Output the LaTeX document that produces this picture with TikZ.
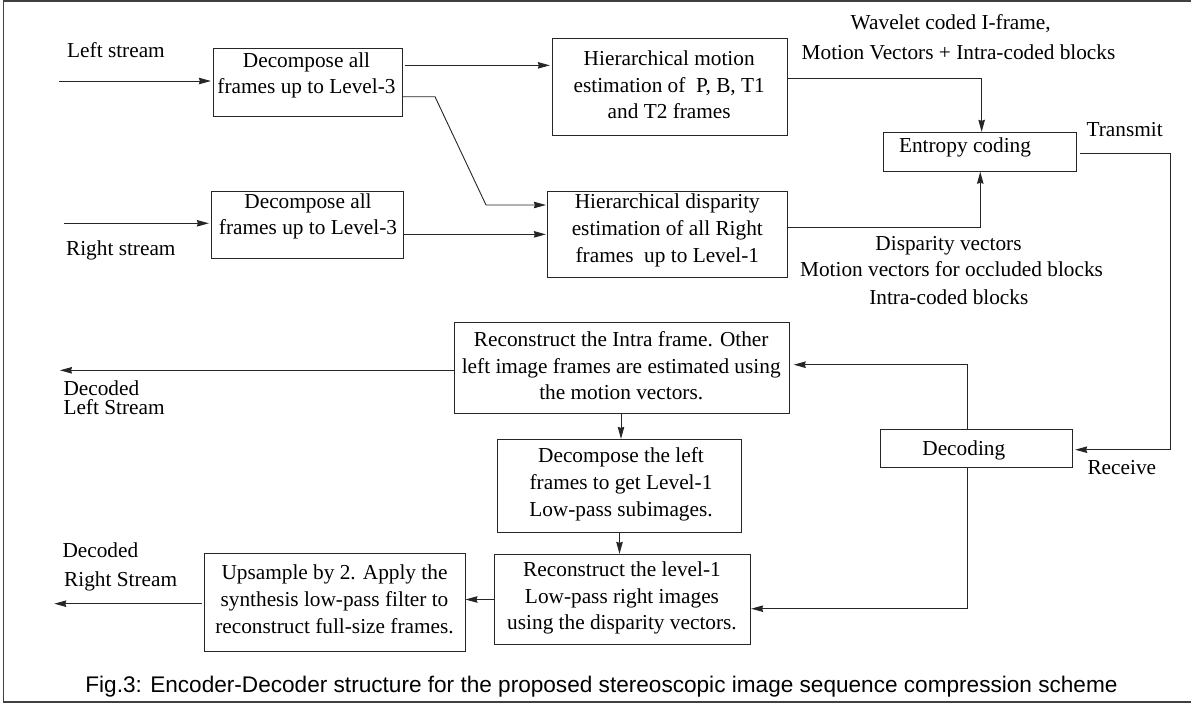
\documentclass[tikz,border=0pt]{standalone}
\usepackage{fontspec}
\setmainfont{Liberation Serif}
\newfontfamily\capfont{Liberation Sans}
\usetikzlibrary{arrows.meta,calc}
\begin{document}
\begin{tikzpicture}[x=1pt,y=-1pt,
  boxnode/.style={draw=black!85,line width=0.9pt,rectangle,inner sep=0pt},
  txt/.style={font=\fontsize{21.3}{26.7}\selectfont,inner sep=0pt,align=center},
  lbl/.style={font=\fontsize{21.3}{26.7}\selectfont,inner sep=0pt},
  conn/.style={draw=black!85,line width=0.9pt},
  arr/.style={conn,-{Stealth[length=12pt,width=6.5pt,inset=1pt]}},
  framel/.style={draw=black!75,line width=1.2pt}]
\useasboundingbox (0,0) rectangle (1191,704);
% outer frame
\draw[framel] (1191,1) -- (3.3,1) -- (3.3,702) -- (1191,702);
% boxes
\node[boxnode,minimum width=189.4pt,minimum height=67.3pt] (decL) at (308,82.35) {};
\node[boxnode,minimum width=192pt,minimum height=67.3pt] (decR) at (307.3,224.65) {};
\node[boxnode,minimum width=235.4pt,minimum height=96.7pt] (hme) at (670,86.65) {};
\node[boxnode,minimum width=240.4pt,minimum height=86.7pt] (hde) at (667.5,234.35) {};
\node[boxnode,minimum width=192.7pt,minimum height=39pt] (ent) at (979.65,151.8) {};
\node[boxnode,minimum width=192.4pt,minimum height=37.6pt] (dec) at (976.5,448.5) {};
\node[boxnode,minimum width=335pt,minimum height=91.4pt] (rint) at (621.8,368) {};
\node[boxnode,minimum width=244.4pt,minimum height=93pt] (dleft) at (619.5,485.8) {};
\node[boxnode,minimum width=256.7pt,minimum height=90.4pt] (rec1) at (622.35,599.5) {};
\node[boxnode,minimum width=261pt,minimum height=97.6pt] (ups) at (334.5,602.5) {};
% box texts
\node[txt] (tdecL) at (306.5,75.5) {Decompose all\\frames up to Level-3};
\node[txt] (tdecR) at (308,216.5) {Decompose all\\frames up to Level-3};
\node[txt] (thme) at (669.2,85) {Hierarchical motion\\estimation of~ P, B, T1\\and T2 frames};
\node[txt] (thde) at (667.3,230.5) {Hierarchical disparity\\estimation of all Right\\frames~ up to Level-1};
\node[txt] (tent) at (965,147.7) {Entropy coding};
\node[txt] (tdec) at (963.8,450.7) {Decoding};
\node[txt] (trint) at (621.2,365.8) {Reconstruct the Intra frame. Other\\left image frames are estimated using\\the motion vectors.};
\node[txt] (tdleft) at (621,484.4) {Decompose the left\\frames to get Level-1\\Low-pass subimages.};
\node[txt] (trec1) at (622,598) {Reconstruct the level-1\\Low-pass right images\\using the disparity vectors.};
\node[txt] (tups) at (334.5,599.3) {Upsample by 2. Apply the\\synthesis low-pass filter to\\reconstruct full-size frames.};
% free labels
\node[lbl] (lleft) at (116,50) {Left stream};
\node[lbl] (lright) at (120.8,250.3) {Right stream};
\node[lbl] (lwav1) at (950.7,23.7) {Wavelet coded I-frame,};
\node[lbl] (lwav2) at (958.5,52.7) {Motion Vectors + Intra-coded blocks};
\node[lbl] (ltrans) at (1124.7,129.3) {Transmit};
\node[lbl] (ldisp1) at (948.5,246) {Disparity vectors};
\node[lbl] (ldisp2) at (951.5,269.3) {Motion vectors for occluded blocks};
\node[lbl] (ldisp3) at (948.8,297) {Intra-coded blocks};
\node[lbl] (lrec) at (1121.8,468) {Receive};
\node[lbl,anchor=west] (ldl1) at (63.3,388) {Decoded};
\node[lbl,anchor=west] (ldl2) at (63.3,407) {Left Stream};
\node[lbl,anchor=west] (ldr1) at (62.3,550.3) {Decoded};
\node[lbl,anchor=west] (ldr2) at (64,581.3) {Right Stream};
\node[font=\capfont\fontsize{22.6}{27}\selectfont,inner sep=0pt] (cap) at (601.5,687) {Fig.3: Encoder-Decoder structure for the proposed stereoscopic image sequence compression scheme};
% free ends
\coordinate (inL) at (59,81);
\coordinate (inR) at (64,223.3);
\coordinate (outL) at (60,370.3);
\coordinate (outR) at (54.3,603.7);
\coordinate (bend1) at (435,96.7);
\coordinate (bend2) at (486,205);
% connectors
\draw[arr,shorten >=2pt] (inL) -- (inL -| decL.west);
\draw[arr,shorten >=2pt] (inR) -- (inR -| decR.west);
\draw[arr,shorten <=1.5pt,shorten >=2pt] ([yshift=17pt]decL.east) -- ([yshift=17pt]decL.east -| hme.west);
\draw[arr,shorten >=1pt] (bend1 -| decL.east) -- (bend1) -- (bend2) -- (bend2 -| hde.west);
\draw[arr,shorten >=1pt] ([yshift=-9.7pt]decR.east) -- ([yshift=-9.7pt]decR.east -| hde.west);
\draw[arr] ([yshift=8pt]hme.east) -| ([xshift=2pt]ent.north);
\draw[arr] ([yshift=6.6pt]hde.east) -| ([xshift=0.6pt]ent.south);
\draw[arr,shorten >=2pt] ([xshift=3.7pt,yshift=-1.9pt]ent.east) -- ++(90.6,0) |- ([yshift=-1.2pt]dec.east);
\draw[arr,shorten >=4pt] ([xshift=-8.8pt]dec.north) |- ([yshift=3.3pt]rint.east);
\draw[arr] ([xshift=-8.8pt]dec.south) |- ([yshift=-9.2pt]rec1.east);
\draw[arr] ([xshift=-0.8pt]rint.south) -- ([xshift=-0.8pt]rint.south |- dleft.north);
\draw[arr] (dleft.south) -- (dleft.south |- rec1.north);
\draw[arr] (rec1.west) -- (rec1.west -| ups.east);
\draw[arr] ([yshift=-2.3pt]rint.west) -- (outL);
\draw[arr,shorten <=2pt] ([yshift=-1.2pt]ups.west) -- (outR);
\end{tikzpicture}
\end{document}
